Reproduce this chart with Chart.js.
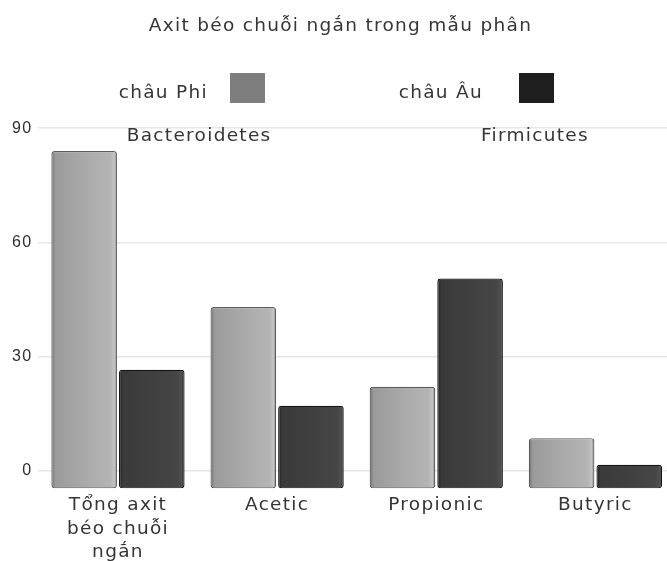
<!DOCTYPE html>
<html>
<head>
<meta charset="utf-8">
<title>Axit béo chuỗi ngắn trong mẫu phân</title>
<script src="https://cdn.jsdelivr.net/npm/chart.js@4.4.1/dist/chart.umd.min.js"></script>
<style>
  html, body { margin: 0; padding: 0; background: #ffffff; overflow: hidden; }
  /* the plot runs a few pixels past the window edges so gridlines bleed off */
  #wrap { width: 675px; height: 568px; }
</style>
</head>
<body>
<div id="wrap"><canvas id="c"></canvas></div>
<script>
// Short-chain fatty acids measured in stool samples
const categories = [['Tổng axit', 'béo chuỗi', 'ngắn'], 'Acetic', 'Propionic', 'Butyric'];
const africa = [84, 43, 22, 8.5];
const europe = [26.5, 17, 50.5, 1.5];
const seriesNames = ['châu Phi', 'châu Âu'];
const yTicks = [0, 30, 60, 90];
const phylumNotes = ['Bacteroidetes', 'Firmicutes'];
const chartTitle = 'Axit béo chuỗi ngắn trong mẫu phân';

const FONT = "'DejaVu Sans', 'Noto Sans', sans-serif";
const FONT_SIZE = 18.5;
const TEXT = '#353535';
const CAT_PCT = 0.85;
const BAR_PCT = 0.97;

// horizontal shading so each bar reads like a rounded block
function shaded(stops) {
  return (ctx) => {
    const chart = ctx.chart;
    const xs = chart.scales && chart.scales.x;
    if (!chart.chartArea || !xs || ctx.type !== 'data') return stops[2][1];
    const cat = xs.width / chart.data.labels.length;
    const slot = cat * CAT_PCT / 2;
    const w = slot * BAR_PCT;
    const cx = xs.getPixelForValue(ctx.dataIndex) + (ctx.datasetIndex === 0 ? -slot / 2 : slot / 2);
    const g = chart.ctx.createLinearGradient(cx - w / 2, 0, cx + w / 2, 0);
    stops.forEach(([p, c]) => g.addColorStop(p, c));
    return g;
  };
}

const lightStops = [[0, '#707070'], [0.06, '#9a9a9a'], [0.5, '#a9a9a9'], [0.9, '#b4b4b4'], [0.96, '#c4c4c4'], [1, '#6a6a6a']];
const darkStops = [[0, '#1c1c1c'], [0.06, '#3a3a3a'], [0.5, '#404040'], [0.9, '#464646'], [0.96, '#505050'], [1, '#141414']];

const legendColors = ['#7e7e7e', '#1e1e1e'];

// slightly open tracking for all canvas text
const tracking = {
  id: 'tracking',
  beforeUpdate(chart) { chart.ctx.letterSpacing = '1.3px'; },
  beforeDraw(chart) { chart.ctx.letterSpacing = '1.3px'; }
};

// legend drawn with the label first and the swatch after it
const sideLegend = {
  id: 'sideLegend',
  afterDraw(chart) {
    const c = chart.ctx;
    const items = [
      { textRight: 208, boxX: 230 },
      { textRight: 483, boxX: 519 }
    ];
    c.save();
    c.font = `${FONT_SIZE}px ${FONT}`;
    c.textAlign = 'right';
    c.textBaseline = 'middle';
    chart.data.datasets.forEach((ds, i) => {
      const it = items[i];
      c.fillStyle = TEXT;
      c.fillText(ds.label, it.textRight, 93);
      c.fillStyle = legendColors[i];
      c.fillRect(it.boxX, 73, 35, 30);
    });
    c.restore();
  }
};

// phylum notes written inside the plot, under the top gridline
const phylumText = {
  id: 'phylumText',
  afterDatasetsDraw(chart) {
    const c = chart.ctx;
    const xs = chart.scales.x, ys = chart.scales.y;
    const spots = [0.51, 2.62];
    c.save();
    c.font = `${FONT_SIZE}px ${FONT}`;
    c.fillStyle = TEXT;
    c.textAlign = 'center';
    c.textBaseline = 'middle';
    phylumNotes.forEach((t, i) => {
      c.fillText(t, xs.getPixelForValue(spots[i]), ys.getPixelForValue(87.8));
    });
    c.restore();
  }
};

new Chart(document.getElementById('c'), {
  type: 'bar',
  data: {
    labels: categories,
    datasets: [
      {
        label: seriesNames[0],
        data: africa,
        base: -4.7,
        backgroundColor: shaded(lightStops),
        borderColor: '#5c5c5c',
        borderWidth: 1.2,
        borderSkipped: false,
        borderRadius: 3,
        categoryPercentage: CAT_PCT,
        barPercentage: BAR_PCT
      },
      {
        label: seriesNames[1],
        data: europe,
        base: -4.7,
        backgroundColor: shaded(darkStops),
        borderColor: '#151515',
        borderWidth: 1.2,
        borderSkipped: false,
        borderRadius: 3,
        categoryPercentage: CAT_PCT,
        barPercentage: BAR_PCT
      }
    ]
  },
  options: {
    responsive: true,
    maintainAspectRatio: false,
    animation: false,
    layout: { padding: { left: 6, right: 0, top: 0, bottom: 0 } },
    plugins: {
      legend: { display: false },
      tooltip: { enabled: false },
      title: {
        display: true,
        text: chartTitle,
        color: TEXT,
        font: { family: FONT, size: FONT_SIZE, weight: 'normal' },
        padding: { top: 15, bottom: 91 }
      }
    },
    scales: {
      x: {
        grid: { display: false, drawTicks: false },
        border: { display: false },
        ticks: {
          color: TEXT,
          font: { family: FONT, size: FONT_SIZE, lineHeight: 1.27 },
          padding: 4,
          maxRotation: 0,
          autoSkip: false
        }
      },
      y: {
        min: -5,
        max: 90,
        afterBuildTicks(axis) {
          axis.ticks = yTicks.map(v => ({ value: v }));
        },
        grid: { color: '#e6e6e6', lineWidth: 1.5, drawTicks: false },
        border: { display: false },
        ticks: {
          color: '#2e2e2e',
          font: { family: "'Liberation Sans', Arial, sans-serif", size: 16 },
          padding: 6
        }
      }
    }
  },
  plugins: [tracking, sideLegend, phylumText]
});
</script>
</body>
</html>
